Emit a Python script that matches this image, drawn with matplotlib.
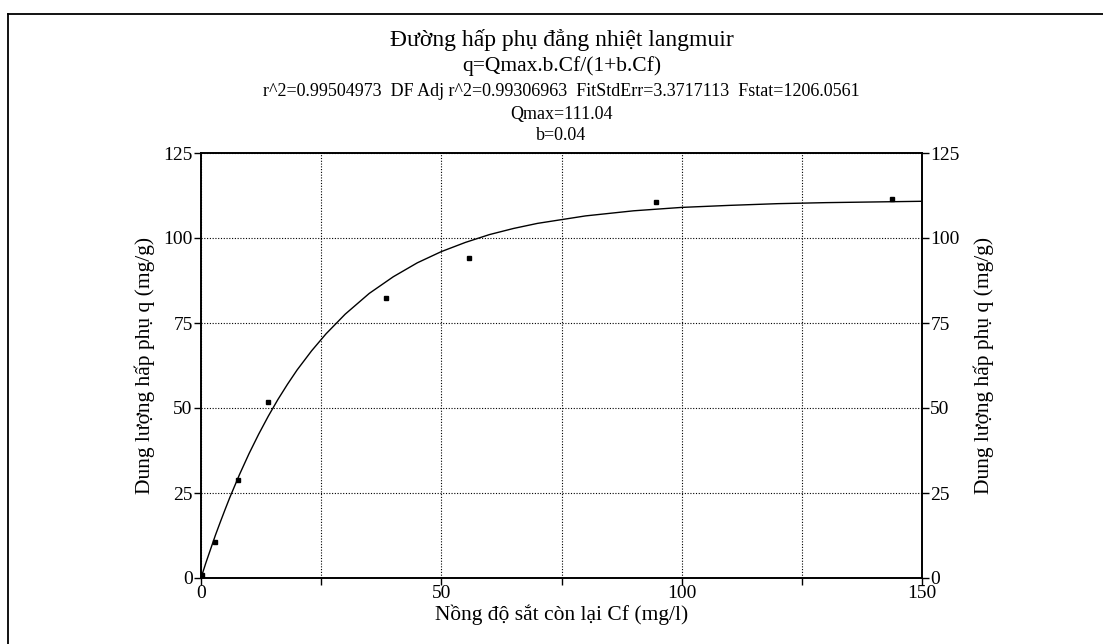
import matplotlib
matplotlib.use("Agg")
import matplotlib.pyplot as plt
from matplotlib.lines import Line2D
from matplotlib.ticker import FixedLocator

# Data points
cf = [0.3, 2.9, 7.8, 14.0, 38.5, 55.7, 94.7, 143.8]
q = [0.8, 10.7, 28.7, 51.8, 82.5, 94.2, 110.6, 111.6]

# Fitted curve
fit_x = [0, 1, 2, 3, 4, 5, 6, 8, 10, 12, 14, 16, 18, 20, 23, 26, 30, 35, 40, 45, 50,
         55, 60, 65, 70, 80, 90, 100, 110, 120, 130, 140, 150]
fit_y = [0, 4.4, 8.5, 12.6, 16.4, 20.1, 23.7, 30.4, 36.6, 42.3, 47.6, 52.5, 57.0, 61.2,
         66.8, 71.8, 77.6, 83.7, 88.6, 92.7, 96.0, 98.7, 101.0, 102.8, 104.3, 106.5,
         108.0, 109.0, 109.6, 110.1, 110.4, 110.6, 110.8]

title_lines = [
    ("Đường hấp phụ đẳng nhiệt langmuir", 17),
    ("q=Qmax.b.Cf/(1+b.Cf)", 15.5),
    ("r^2=0.99504973  DF Adj r^2=0.99306963  FitStdErr=3.3717113  Fstat=1206.0561", 13),
    ("Qmax=111.04", 13),
    ("b=0.04", 13),
]
title_y_px = [40, 66, 91, 115, 135]

xlabel = "Nồng độ sắt còn lại Cf (mg/l)"
ylabel = "Dung lượng hấp phụ q (mg/g)"
x_major = [0, 50, 100, 150]
x_minor = [25, 75, 125]
y_ticks = [0, 25, 50, 75, 100, 125]

plt.rcParams['font.family'] = ['Liberation Serif', 'DejaVu Serif']

W, H = 1103, 644
fig = plt.figure(figsize=(W / 100, H / 100), dpi=100)
left, right, top, bottom = 201, 922, 153, 578
ax = fig.add_axes([left / W, 1 - bottom / H, (right - left) / W, (bottom - top) / H])
ax2 = ax.twinx()

ax.plot(fit_x, fit_y, color='black', lw=1.0)
ax.plot(cf, q, ls='none', marker='s', ms=3, color='black', mec='black')

ax.set_xlim(0, 150)
ax.set_ylim(0, 125)
ax2.set_ylim(0, 125)
ax.xaxis.set_major_locator(FixedLocator(x_major))
ax.xaxis.set_minor_locator(FixedLocator(x_minor))
ax.yaxis.set_major_locator(FixedLocator(y_ticks))
ax2.yaxis.set_major_locator(FixedLocator(y_ticks))
ax.grid(True, which='both', axis='x', color='black', ls=(0, (1, 1.5)), lw=0.8)
ax.grid(True, which='major', axis='y', color='black', ls=(0, (1, 1.5)), lw=0.8)
for a in (ax, ax2):
    a.tick_params(which='both', direction='out', length=5, width=1, labelsize=14, pad=1)
ax.tick_params(axis='x', pad=0)
for s in list(ax.spines.values()) + list(ax2.spines.values()):
    s.set_linewidth(1.2)
    s.set_color('black')

ax.set_xlabel(xlabel, fontsize=15.5, labelpad=2)
ax.set_ylabel(ylabel, fontsize=15.5, labelpad=6)
ax2.set_ylabel(ylabel, fontsize=15.5, rotation=90, labelpad=10)

cx = (left + right) / 2 / W
for (txt, fs), ypx in zip(title_lines, title_y_px):
    fig.text(cx, 1 - ypx / H, txt, ha='center', va='center', fontsize=fs)

# outer frame lines (top and left)
fig.add_artist(Line2D([8 / W, 1], [1 - 14 / H, 1 - 14 / H], color='black', lw=1.3, transform=fig.transFigure))
fig.add_artist(Line2D([8 / W, 8 / W], [1 - 14 / H, 0], color='black', lw=1.3, transform=fig.transFigure))

fig.savefig("out.png", dpi=100)
